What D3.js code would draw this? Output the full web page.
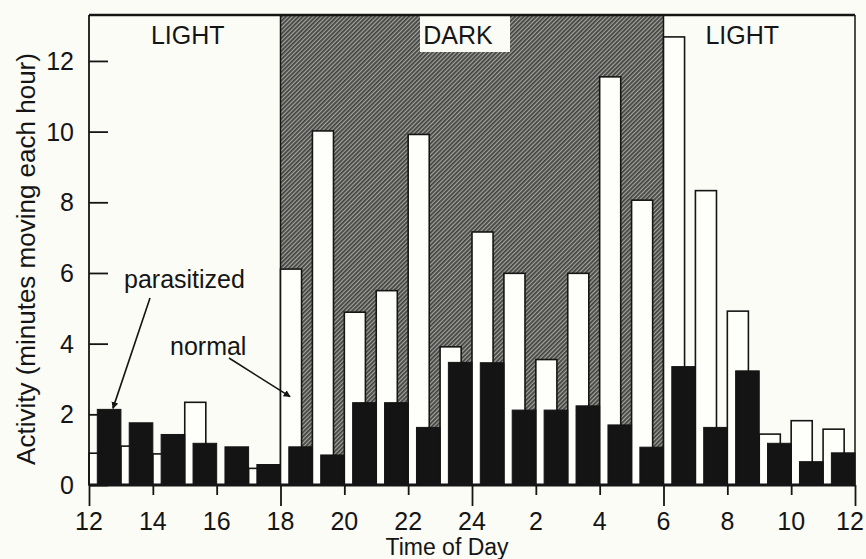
<!DOCTYPE html>
<html>
<head>
<meta charset="utf-8">
<script src="https://cdn.jsdelivr.net/npm/d3@7"></script>
<style>
  body { margin: 0; background: #fcfcf7; }
  svg { display: block; }
  text { font-family: "Liberation Sans", Arial, sans-serif; fill: #151515; }
</style>
</head>
<body>
<svg id="chart"></svg>
<script>
// hour each bar starts at, from noon to noon
const hours = [12, 13, 14, 15, 16, 17, 18, 19, 20, 21, 22, 23, 0, 1, 2, 3, 4, 5, 6, 7, 8, 9, 10, 11];
// open bars
const normal = [0.9, 1.1, 0.88, 2.34, 0, 0.47, 6.11, 10.02, 4.89, 5.5, 9.92, 3.91,
                7.16, 5.99, 3.55, 5.99, 11.55, 8.06, 12.68, 8.33, 4.92, 1.44, 1.82, 1.58];
// filled bars
const parasitized = [2.14, 1.76, 1.43, 1.18, 1.08, 0.58, 1.08, 0.85, 2.33, 2.33, 1.63, 3.47,
                     3.46, 2.12, 2.12, 2.24, 1.70, 1.07, 3.35, 1.63, 3.23, 1.18, 0.66, 0.91];
const xTickLabels = ['12', '14', '16', '18', '20', '22', '24', '2', '4', '6', '8', '10', '12'];
const yTicks = [0, 2, 4, 6, 8, 10, 12];
const periods = [
  { label: 'LIGHT', from: 0, to: 6 },
  { label: 'DARK', from: 6, to: 18 },
  { label: 'LIGHT', from: 18, to: 24 }
];

const width = 866, height = 559;
const svg = d3.select('#chart').attr('width', width).attr('height', height);

const x = d3.scaleLinear().domain([0, 24]).range([89, 855]);
const y = d3.scaleLinear().domain([0, 13.3]).range([485, 15]);

// hatch for the dark period
const defs = svg.append('defs');
const pat = defs.append('pattern')
  .attr('id', 'hatch')
  .attr('patternUnits', 'userSpaceOnUse')
  .attr('width', 3).attr('height', 3)
  .attr('patternTransform', 'rotate(45)');
pat.append('rect').attr('width', 3).attr('height', 3).attr('fill', '#a4a4a0');
pat.append('line').attr('x1', 0.9).attr('y1', 0).attr('x2', 0.9).attr('y2', 3)
  .attr('stroke', '#3e3e3c').attr('stroke-width', 1.7);

defs.append('marker')
  .attr('id', 'arrow')
  .attr('viewBox', '0 0 10 10')
  .attr('refX', 9).attr('refY', 5)
  .attr('markerWidth', 7).attr('markerHeight', 8)
  .attr('markerUnits', 'userSpaceOnUse')
  .attr('orient', 'auto')
  .append('path').attr('d', 'M0,0 L10,5 L0,10 z').attr('fill', '#151515');

const dark = periods[1];
svg.append('rect')
  .attr('x', x(dark.from)).attr('y', y.range()[1])
  .attr('width', x(dark.to) - x(dark.from))
  .attr('height', y(0) - y.range()[1])
  .attr('fill', 'url(#hatch)')
  .attr('stroke', '#151515').attr('stroke-width', 1.5);

// period labels (nudged to where the original sets them)
const labelShift = [3, -14, -17];
periods.forEach((p, i) => {
  const cx = (x(p.from) + x(p.to)) / 2 + labelShift[i];
  if (p.label === 'DARK') {
    svg.append('rect').attr('x', cx - 38).attr('y', 16).attr('width', 90).attr('height', 36)
      .attr('fill', '#fcfcf7');
  }
  svg.append('text')
    .attr('x', cx).attr('y', 44)
    .attr('text-anchor', 'middle')
    .style('font-size', '25px')
    .text(p.label);
});

// bars: open (normal) behind, filled (parasitized) in front
const hw = x(1) - x(0);
svg.append('g').selectAll('rect')
  .data(normal)
  .join('rect')
  .attr('x', (d, i) => x(i))
  .attr('y', d => y(d))
  .attr('width', hw * 0.66)
  .attr('height', d => y(0) - y(d))
  .attr('fill', '#fefefb')
  .attr('stroke', '#151515')
  .attr('stroke-width', 1.6);

svg.append('g').selectAll('rect')
  .data(parasitized)
  .join('rect')
  .attr('x', (d, i) => x(i + 0.26))
  .attr('y', d => y(d))
  .attr('width', hw * 0.74)
  .attr('height', d => y(0) - y(d))
  .attr('fill', '#141414')
  .attr('stroke', '#141414')
  .attr('stroke-width', 1);

// frame
svg.append('line').attr('x1', x(0)).attr('x2', x(24)).attr('y1', y.range()[1]).attr('y2', y.range()[1])
  .attr('stroke', '#151515').attr('stroke-width', 2.5);
svg.append('line').attr('x1', x(24)).attr('x2', x(24)).attr('y1', y.range()[1]).attr('y2', y(0))
  .attr('stroke', '#151515').attr('stroke-width', 1.5);

// y axis with inward ticks
const yAxis = svg.append('g')
  .attr('transform', `translate(${x(0)},0)`)
  .call(d3.axisRight(y).tickValues(yTicks).tickSize(19).tickFormat(''));
yAxis.select('.domain').attr('stroke', '#151515').attr('stroke-width', 1.8)
  .attr('d', `M0,${y.range()[1]}V${y(0)}`);
yAxis.selectAll('.tick line').attr('stroke', '#151515').attr('stroke-width', 1.8);
svg.append('g').selectAll('text')
  .data(yTicks)
  .join('text')
  .attr('x', 74).attr('y', d => y(d) + 9)
  .attr('text-anchor', 'end')
  .style('font-size', '25px')
  .text(d => d);

// x axis: ticks every 2 h, longer every 6 h
const xAxis = svg.append('g')
  .attr('transform', `translate(0,${y(0)})`)
  .call(d3.axisBottom(x).tickValues(d3.range(0, 25, 2)).tickSize(10).tickFormat(''));
xAxis.select('.domain').attr('stroke', '#151515').attr('stroke-width', 3)
  .attr('d', `M${x(0)},0H${x(24)}`);
xAxis.selectAll('.tick line')
  .attr('stroke', '#151515').attr('stroke-width', 1.8)
  .attr('y2', d => d % 6 === 0 ? 21 : 10);
svg.append('g').selectAll('text')
  .data(xTickLabels)
  .join('text')
  .attr('x', (d, i) => Math.min(x(i * 2), 850))
  .attr('y', 530)
  .attr('text-anchor', 'middle')
  .style('font-size', '25px')
  .text(d => d);

// axis titles
svg.append('text')
  .attr('x', 447).attr('y', 555)
  .attr('text-anchor', 'middle')
  .style('font-size', '23px')
  .text('Time of Day');
svg.append('text')
  .attr('transform', `translate(35,259) rotate(-90)`)
  .attr('text-anchor', 'middle')
  .style('font-size', '26px')
  .text('Activity (minutes moving each hour)');

// annotations
svg.append('text').attr('x', 124).attr('y', 288).style('font-size', '25px').text('parasitized');
svg.append('line')
  .attr('x1', 150).attr('y1', 298)
  .attr('x2', x(0.75)).attr('y2', y(parasitized[0]) - 1)
  .attr('stroke', '#151515').attr('stroke-width', 1.6)
  .attr('marker-end', 'url(#arrow)');
svg.append('text').attr('x', 170).attr('y', 355).style('font-size', '25px').text('normal');
svg.append('line')
  .attr('x1', 229).attr('y1', 358)
  .attr('x2', x(6.3)).attr('y2', y(2.5))
  .attr('stroke', '#151515').attr('stroke-width', 1.6)
  .attr('marker-end', 'url(#arrow)');
</script>
</body>
</html>
